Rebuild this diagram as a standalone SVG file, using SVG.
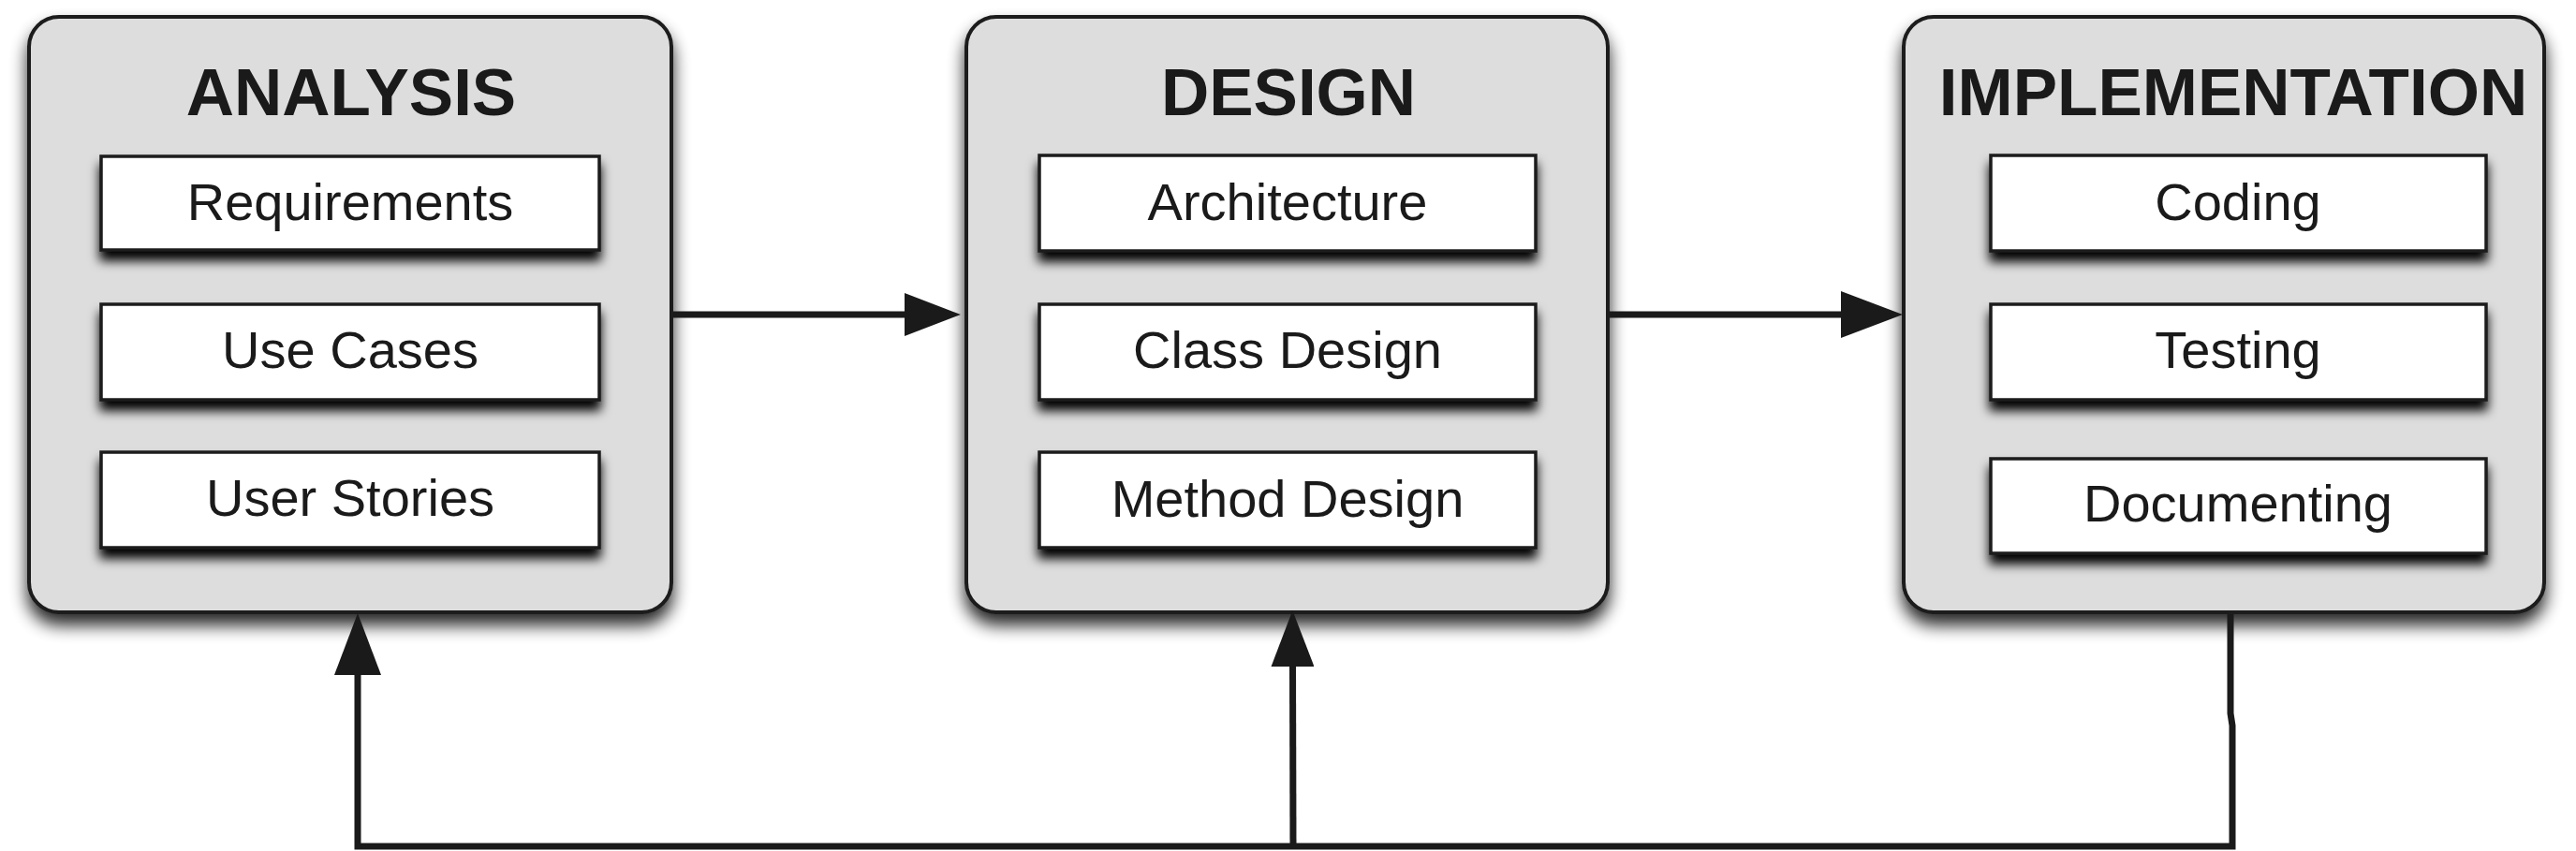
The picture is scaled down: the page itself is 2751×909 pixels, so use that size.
<svg xmlns="http://www.w3.org/2000/svg" width="2751" height="909" viewBox="0 0 2751 909">
<defs>
<filter id="shOuter" x="-10%" y="-10%" width="120%" height="125%">
<feGaussianBlur in="SourceAlpha" stdDeviation="9"/>
<feOffset dx="0" dy="12" result="b"/>
<feComponentTransfer><feFuncA type="linear" slope="0.85"/></feComponentTransfer>
<feMerge><feMergeNode/><feMergeNode in="SourceGraphic"/></feMerge>
</filter>
<filter id="shInner" x="-10%" y="-20%" width="120%" height="160%">
<feGaussianBlur in="SourceAlpha" stdDeviation="6"/>
<feOffset dx="0" dy="10" result="b"/>
<feComponentTransfer><feFuncA type="linear" slope="1"/></feComponentTransfer>
<feMerge><feMergeNode/><feMergeNode in="SourceGraphic"/></feMerge>
</filter>
<marker id="arrL" markerUnits="userSpaceOnUse" markerWidth="67" markerHeight="50" refX="0" refY="25" orient="auto">
<path d="M0,0 L66,25 L0,50 z" fill="#1a1a1a"/>
</marker>
<marker id="arrS" markerUnits="userSpaceOnUse" markerWidth="61" markerHeight="46" refX="0" refY="23" orient="auto">
<path d="M0,0 L60,23 L0,46 z" fill="#1a1a1a"/>
</marker>
</defs>
<style>
.phase{fill:#dddddd;stroke:#1a1a1a;stroke-width:4;filter:url(#shOuter)}
.task{fill:#ffffff;stroke:#1a1a1a;stroke-width:3.5;filter:url(#shInner)}
.title{font-family:"Liberation Sans",Arial,sans-serif;font-weight:bold;font-size:71px;fill:#1a1a1a;text-anchor:middle}
.label{font-family:"Liberation Sans",Arial,sans-serif;font-size:56px;fill:#1a1a1a;text-anchor:middle}
.conn{fill:none;stroke:#1a1a1a;stroke-width:7;stroke-linejoin:miter}
</style>
<rect width="2751" height="909" fill="#ffffff"/>
<g id="analysis">
<rect class="phase" x="31" y="18" width="686" height="636" rx="32" ry="32"/>
<text class="title" x="375" y="123">ANALYSIS</text>
<g id="requirements"><rect class="task" x="108" y="167" width="532" height="100"/><text class="label" x="374" y="235">Requirements</text></g>
<g id="use-cases"><rect class="task" x="108" y="325" width="532" height="102"/><text class="label" x="374" y="393">Use Cases</text></g>
<g id="user-stories"><rect class="task" x="108" y="483" width="532" height="102"/><text class="label" x="374" y="551">User Stories</text></g>
</g>
<g id="design">
<rect class="phase" x="1032" y="18" width="685" height="636" rx="32" ry="32"/>
<text class="title" x="1376" y="123">DESIGN</text>
<g id="architecture"><rect class="task" x="1110" y="166" width="530" height="102"/><text class="label" x="1375" y="235">Architecture</text></g>
<g id="class-design"><rect class="task" x="1110" y="325" width="530" height="102"/><text class="label" x="1375" y="393">Class Design</text></g>
<g id="method-design"><rect class="task" x="1110" y="483" width="530" height="102"/><text class="label" x="1375" y="552">Method Design</text></g>
</g>
<g id="implementation">
<rect class="phase" x="2033" y="18" width="684" height="636" rx="32" ry="32"/>
<text class="title" x="2385" y="123">IMPLEMENTATION</text>
<g id="coding"><rect class="task" x="2126" y="166" width="529" height="102"/><text class="label" x="2390" y="235">Coding</text></g>
<g id="testing"><rect class="task" x="2126" y="325" width="529" height="102"/><text class="label" x="2390" y="393">Testing</text></g>
<g id="documenting"><rect class="task" x="2126" y="490" width="529" height="101"/><text class="label" x="2390" y="557">Documenting</text></g>
</g>
<g id="connectors">
<path class="conn" d="M719,336 L966,336" marker-end="url(#arrS)"/>
<path class="conn" d="M1719,336 L1966,336" marker-end="url(#arrL)"/>
<path class="conn" d="M2382,656 L2382,762 L2384,775 L2384,904 L382,904 L382,721" marker-end="url(#arrL)"/>
<path class="conn" d="M1381,904 L1380.5,712" marker-end="url(#arrS)"/>
</g>
</svg>
